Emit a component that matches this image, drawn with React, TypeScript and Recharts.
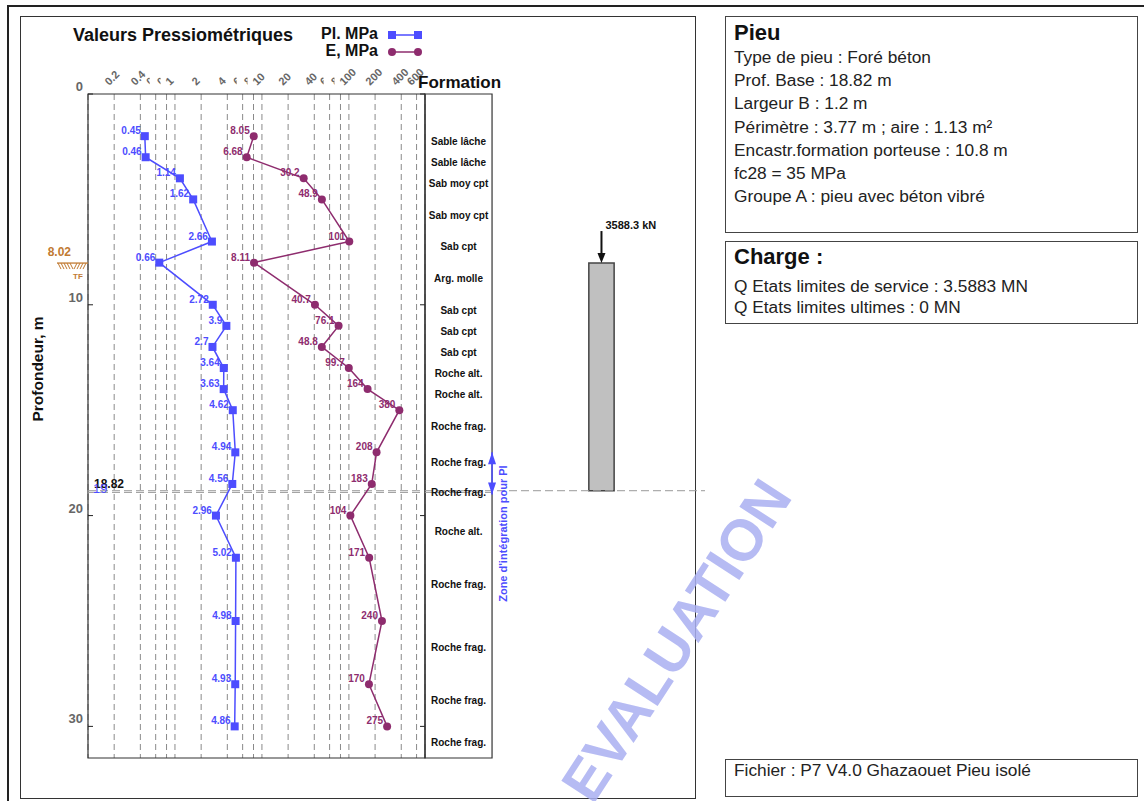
import React from 'react';
import {
  ComposedChart,
  Scatter,
  XAxis,
  YAxis,
  CartesianGrid,
  ReferenceArea,
  ReferenceLine,
  ReferenceDot,
} from 'recharts';

// pressuremeter tests: depth (m), limit pressure Pl (MPa), modulus E (MPa)
const depths = [2, 3, 4, 5, 7, 8, 10, 11, 12, 13, 14, 15, 17, 18.5, 20, 22, 25, 28, 30];
const plValues = [0.45, 0.46, 1.14, 1.62, 2.66, 0.66, 2.72, 3.9, 2.7, 3.64, 3.63, 4.62, 4.94, 4.56, 2.96, 5.02, 4.98, 4.93, 4.86];
const eValues = [8.05, 6.68, 30.2, 48.9, 101, 8.11, 40.7, 76.1, 48.8, 99.7, 164, 380, 208, 183, 104, 171, 240, 170, 275];

const xTicks = [0.2, 0.4, 0.6, 0.8, 1, 2, 4, 6, 8, 10, 20, 40, 60, 80, 100, 200, 400, 600];
const minorTicks = [0.6, 0.8, 6, 8, 60, 80];
const depthTicks = [0, 10, 20, 30];

const formationNames = [
  'Sable lâche', 'Sable lâche', 'Sab moy cpt', 'Sab moy cpt', 'Sab cpt', 'Arg. molle',
  'Sab cpt', 'Sab cpt', 'Sab cpt', 'Roche alt.', 'Roche alt.', 'Roche frag.',
  'Roche frag.', 'Roche frag.', 'Roche alt.', 'Roche frag.', 'Roche frag.', 'Roche frag.', 'Roche frag.',
];
const formationDepths = [2.25, 3.25, 4.25, 5.75, 7.25, 8.75, 10.25, 11.25, 12.25, 13.25, 14.25, 15.75, 17.5, 18.9, 20.75, 23.25, 26.25, 28.75, 30.75];

const TF_DEPTH = 8.02;
const PILE_TOP = 8.02;
const PILE_BASE = 18.82;
const PILE_WIDTH = 1.2;
const LOAD_KN = 3588.3;
const ZONE_TOP = 17;
const ZONE_BOTTOM = 19;
const BASE_LINE_2 = 18.9;

const pieuLines = [
  'Type de pieu : Foré béton',
  'Prof. Base : 18.82 m',
  'Largeur B : 1.2 m',
  'Périmètre : 3.77 m ; aire : 1.13 m²',
  'Encastr.formation porteuse : 10.8 m',
  'fc28 = 35 MPa',
  'Groupe A : pieu avec béton vibré',
];
const chargeLines = ['Q Etats limites de service : 3.5883 MN', 'Q Etats limites ultimes : 0 MN'];

// layout
const PLOT_L = 88;
const PLOT_R = 425;
const PLOT_T = 94;
const PLOT_B = 758;
const DEPTH_MAX = 31.5;
const X_MIN = 0.1;
const X_MAX = 750;
const SCHEME_R = 705;
const SCHEME_MAX = 13.28;
const COL_RIGHT = 3.18;
const PILE_CENTER = 8.37;

const BLUE = '#4d4dff';
const PURPLE = '#8e2c6e';
const BROWN = '#c17a32';
const GRID = '#8a8a8a';
const FONT = '"Liberation Sans", Arial, sans-serif';

const plData = depths.map((d, i) => ({ depth: d, v: plValues[i] }));
const eData = depths.map((d, i) => ({ depth: d, v: eValues[i] }));
const formationData = formationNames.map((n, i) => ({ name: n, depth: formationDepths[i], x: COL_RIGHT / 2 }));

const XTick = (props: any) => {
  const { x, y, payload, index } = props;
  const v = payload.value;
  const minor = minorTicks.includes(v);
  const id = `xclip-${index}`;
  return (
    <g>
      {minor && (
        <defs>
          <clipPath id={id}>
            <rect x={x - 12} y={60} width={6} height={40} />
          </clipPath>
        </defs>
      )}
      <g clipPath={minor ? `url(#${id})` : undefined}>
        <text
          transform={`translate(${x - 5},${y}) rotate(-45)`}
          textAnchor="start"
          fontSize={11}
          fontWeight="bold"
          fill="#666"
        >
          {String(v)}
        </text>
      </g>
    </g>
  );
};

const YTick = (props: any) => {
  const { y, payload } = props;
  return (
    <g>
      <text x={PLOT_L - 5} y={y - 3} textAnchor="end" fontSize={13} fontWeight="bold" fill="#666">
        {payload.value}
      </text>
      <line x1={PLOT_L} x2={PLOT_L + 5} y1={y} y2={y} stroke="#222" />
      <line x1={PLOT_R - 5} x2={PLOT_R} y1={y} y2={y} stroke="#222" />
    </g>
  );
};

const PlShape = (props: any) => {
  const { cx, cy, payload } = props;
  return (
    <g>
      <rect x={cx - 4} y={cy - 4} width={8} height={8} fill={BLUE} />
      <text x={cx - 4} y={cy - 2} textAnchor="end" fontSize={10} fontWeight="bold" fill={BLUE}>
        {String(payload.v)}
      </text>
    </g>
  );
};

const EShape = (props: any) => {
  const { cx, cy, payload } = props;
  return (
    <g>
      <circle cx={cx} cy={cy} r={4} fill={PURPLE} />
      <text x={cx - 4} y={cy - 2} textAnchor="end" fontSize={10} fontWeight="bold" fill={PURPLE}>
        {String(payload.v)}
      </text>
    </g>
  );
};

const FormationLabel = (props: any) => {
  const { cx, cy, payload } = props;
  return (
    <text x={cx} y={cy + 3.5} textAnchor="middle" fontSize={10} fontWeight="bold" fill="#111">
      {payload.name}
    </text>
  );
};

const TfMark = (props: any) => {
  const { cx, cy } = props;
  const back = [0, 1, 2, 3, 4];
  const fwd = [0, 1, 2, 3];
  return (
    <g>
      <text x={cx - 17} y={cy - 7} textAnchor="end" fontSize={12} fontWeight="bold" fill={BROWN}>
        {TF_DEPTH.toFixed(2)}
      </text>
      <line x1={cx - 31} x2={cx} y1={cy} y2={cy} stroke={BROWN} strokeWidth={1.3} />
      {back.map((i) => (
        <line key={'b' + i} x1={cx - 30 + i * 3} y1={cy} x2={cx - 27 + i * 3} y2={cy + 6} stroke={BROWN} strokeWidth={1} />
      ))}
      {fwd.map((i) => (
        <line key={'f' + i} x1={cx - 14 + i * 3} y1={cy + 6} x2={cx - 11 + i * 3} y2={cy} stroke={BROWN} strokeWidth={1} />
      ))}
      <text x={cx - 15} y={cy + 16} fontSize={8} fontWeight="bold" fill={BROWN}>
        TF
      </text>
    </g>
  );
};

const BaseLabel = (props: any) => (
  <text x={props.cx + 6} y={props.cy - 3} fontSize={12} fontWeight="bold" fill="#111">
    {PILE_BASE.toFixed(2)}
  </text>
);

const ZoneLabel = (props: any) => (
  <text x={props.cx + 5} y={props.cy - 2} fontSize={13} fill={BLUE}>
    {String(ZONE_BOTTOM)}
  </text>
);

const ZoneTop = (props: any) => {
  const { cx, cy } = props;
  return (
    <g>
      <polygon points={`${cx},${cy} ${cx - 4},${cy + 12} ${cx + 4},${cy + 12}`} fill={BLUE} />
      <text
        transform={`translate(${cx + 15},${cy + 13}) rotate(-90)`}
        textAnchor="end"
        fontSize={11}
        fontWeight="bold"
        fill={BLUE}
      >
        Zone d'intégration pour Pl
      </text>
    </g>
  );
};

const ZoneBottom = (props: any) => {
  const { cx, cy } = props;
  return <polygon points={`${cx},${cy} ${cx - 4},${cy - 12} ${cx + 4},${cy - 12}`} fill={BLUE} />;
};

const LoadArrow = (props: any) => {
  const { cx, cy } = props;
  return (
    <g>
      <line x1={cx} x2={cx} y1={cy - 32} y2={cy - 8} stroke="#111" strokeWidth={2} />
      <polygon points={`${cx},${cy} ${cx - 4},${cy - 10} ${cx + 4},${cy - 10}`} fill="#111" />
      <text x={cx + 4} y={cy - 34} fontSize={11} fontWeight="bold" fill="#111">
        {`${LOAD_KN} kN`}
      </text>
    </g>
  );
};

const box: React.CSSProperties = {
  position: 'absolute',
  left: 725,
  width: 413,
  boxSizing: 'border-box',
  border: '1px solid #444',
  paddingLeft: 8,
  color: '#222',
};

export default function App() {
  return (
    <div
      style={{
        position: 'absolute',
        left: 0,
        top: 0,
        width: 1144,
        height: 801,
        overflow: 'hidden',
        background: '#fff',
        fontFamily: FONT,
      }}
    >
      <div style={{ position: 'absolute', left: 7, top: 5, width: 1200, height: 900, border: '2px solid #222' }} />
      <div style={{ position: 'absolute', left: 20, top: 16, width: 674, height: 781, border: '1px solid #333' }} />

      <div style={{ position: 'absolute', left: 73, top: 26, fontSize: 18, lineHeight: '18px', fontWeight: 'bold', color: '#111' }}>
        Valeurs Pressiométriques
      </div>
      <div style={{ position: 'absolute', left: 290, width: 88, top: 25.5, fontSize: 16, lineHeight: '16px', fontWeight: 'bold', textAlign: 'right', color: '#111' }}>
        Pl. MPa
      </div>
      <div style={{ position: 'absolute', left: 290, width: 88, top: 42.5, fontSize: 16, lineHeight: '16px', fontWeight: 'bold', textAlign: 'right', color: '#111' }}>
        E, MPa
      </div>
      <svg style={{ position: 'absolute', left: 386, top: 30 }} width={38} height={10}>
        <line x1={6} x2={32} y1={5} y2={5} stroke={BLUE} strokeWidth={1.5} />
        <rect x={2} y={1} width={8} height={8} fill={BLUE} />
        <rect x={28} y={1} width={8} height={8} fill={BLUE} />
      </svg>
      <svg style={{ position: 'absolute', left: 386, top: 47 }} width={38} height={10}>
        <line x1={6} x2={32} y1={5} y2={5} stroke={PURPLE} strokeWidth={1.5} />
        <circle cx={6} cy={5} r={4} fill={PURPLE} />
        <circle cx={32} cy={5} r={4} fill={PURPLE} />
      </svg>
      <div style={{ position: 'absolute', left: 418, top: 73.6, fontSize: 17, lineHeight: '17px', fontWeight: 'bold', color: '#111' }}>
        Formation
      </div>
      <div
        style={{
          position: 'absolute',
          left: 38,
          top: 369,
          transform: 'translate(-50%, -50%) rotate(-90deg)',
          whiteSpace: 'nowrap',
          fontSize: 15.5,
          fontWeight: 'bold',
          color: '#111',
        }}
      >
        Profondeur, m
      </div>

      <div style={{ position: 'absolute', left: 0, top: 0 }}>
        <ComposedChart
          width={700}
          height={801}
          margin={{ top: PLOT_T - 60, left: PLOT_L - 50, right: 700 - PLOT_R, bottom: 801 - PLOT_B }}
        >
          <CartesianGrid horizontal={false} stroke={GRID} strokeDasharray="6 4" />
          <XAxis
            type="number"
            dataKey="v"
            scale="log"
            domain={[X_MIN, X_MAX]}
            allowDataOverflow
            ticks={xTicks}
            interval={0}
            orientation="top"
            height={60}
            tickLine={false}
            axisLine={false}
            tick={(p: any) => <XTick {...p} />}
          />
          <YAxis
            type="number"
            dataKey="depth"
            domain={[0, DEPTH_MAX]}
            reversed
            allowDataOverflow
            ticks={depthTicks}
            interval={0}
            width={50}
            tickLine={false}
            axisLine={false}
            tick={(p: any) => <YTick {...p} />}
          />
          <ReferenceArea x1={X_MIN} x2={X_MAX} y1={0} y2={DEPTH_MAX} fill="none" stroke="#333" strokeWidth={1.2} ifOverflow="visible" />
          <ReferenceLine y={PILE_BASE} stroke="#9a9a9a" strokeDasharray="8 4" />
          <ReferenceLine y={BASE_LINE_2} stroke="#9a9a9a" strokeDasharray="8 4" />
          <Scatter name="Pl. MPa" data={plData} line={{ stroke: BLUE, strokeWidth: 1.5 }} shape={PlShape} isAnimationActive={false} />
          <Scatter name="E, MPa" data={eData} line={{ stroke: PURPLE, strokeWidth: 1.5 }} shape={EShape} isAnimationActive={false} />
          <ReferenceDot x={X_MIN} y={TF_DEPTH} ifOverflow="visible" shape={TfMark} />
          <ReferenceDot x={X_MIN} y={PILE_BASE} ifOverflow="visible" shape={BaseLabel} />
          <ReferenceDot x={X_MIN} y={ZONE_BOTTOM} ifOverflow="visible" shape={ZoneLabel} />
        </ComposedChart>
      </div>

      <div style={{ position: 'absolute', left: 0, top: 0 }}>
        <ComposedChart
          width={720}
          height={801}
          margin={{ top: PLOT_T, left: PLOT_R, right: 720 - SCHEME_R, bottom: 801 - PLOT_B }}
        >
          <XAxis type="number" dataKey="x" domain={[0, SCHEME_MAX]} hide allowDataOverflow />
          <YAxis type="number" dataKey="depth" domain={[0, DEPTH_MAX]} reversed hide allowDataOverflow />
          <ReferenceArea x1={0} x2={COL_RIGHT} y1={0} y2={DEPTH_MAX} fill="none" stroke="#333" strokeWidth={1.2} ifOverflow="visible" />
          <ReferenceLine y={PILE_BASE} stroke="#9a9a9a" strokeDasharray="8 4" ifOverflow="visible" />
          <ReferenceLine
            segment={[{ x: 0, y: BASE_LINE_2 }, { x: COL_RIGHT, y: BASE_LINE_2 }]}
            stroke="#9a9a9a"
            strokeDasharray="8 4"
          />
          <ReferenceArea
            x1={PILE_CENTER - PILE_WIDTH / 2}
            x2={PILE_CENTER + PILE_WIDTH / 2}
            y1={PILE_TOP}
            y2={PILE_BASE}
            fill="#c0c0c0"
            fillOpacity={1}
            stroke="#444"
            strokeWidth={1.5}
          />
          <ReferenceDot x={PILE_CENTER} y={PILE_TOP} ifOverflow="visible" shape={LoadArrow} />
          <Scatter data={formationData} shape={FormationLabel} isAnimationActive={false} />
          <ReferenceLine
            segment={[{ x: COL_RIGHT, y: ZONE_TOP }, { x: COL_RIGHT, y: ZONE_BOTTOM }]}
            stroke={BLUE}
            strokeWidth={1.5}
            ifOverflow="visible"
          />
          <ReferenceDot x={COL_RIGHT} y={ZONE_TOP} ifOverflow="visible" shape={ZoneTop} />
          <ReferenceDot x={COL_RIGHT} y={ZONE_BOTTOM} ifOverflow="visible" shape={ZoneBottom} />
        </ComposedChart>
      </div>

      <div style={{ ...box, top: 16, height: 217, paddingTop: 4 }}>
        <div style={{ fontSize: 22, lineHeight: '24px', fontWeight: 'bold', color: '#111' }}>Pieu</div>
        <div style={{ marginTop: 1 }}>
          {pieuLines.map((l, i) => (
            <div key={i} style={{ fontSize: 17.3, lineHeight: '23.2px' }}>{l}</div>
          ))}
        </div>
      </div>
      <div style={{ ...box, top: 241, height: 83, paddingTop: 3.3 }}>
        <div style={{ fontSize: 22, lineHeight: '24px', fontWeight: 'bold', color: '#111' }}>Charge :</div>
        <div style={{ marginTop: 6.5 }}>
          {chargeLines.map((l, i) => (
            <div key={i} style={{ fontSize: 17.3, lineHeight: '21.3px' }}>{l}</div>
          ))}
        </div>
      </div>
      <div style={{ ...box, top: 759, height: 38 }}>
        <div style={{ fontSize: 17.3, lineHeight: '20px' }}>Fichier : P7 V4.0 Ghazaouet Pieu isolé</div>
      </div>

      <div
        style={{
          position: 'absolute',
          left: 676,
          top: 640,
          transform: 'translate(-50%, -50%) rotate(-57deg)',
          whiteSpace: 'nowrap',
          fontSize: 58,
          fontWeight: 'bold',
          color: '#aab0f2',
          opacity: 0.85,
          pointerEvents: 'none',
        }}
      >
        EVALUATION
      </div>
    </div>
  );
}
